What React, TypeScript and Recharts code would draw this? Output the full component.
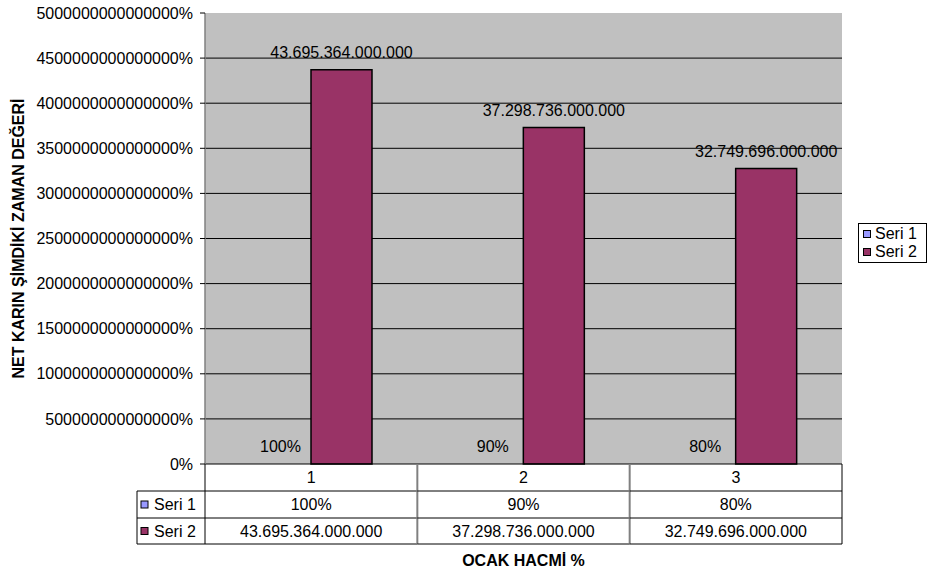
import React from 'react';
import { BarChart, Bar, XAxis, YAxis, CartesianGrid, Legend, LabelList } from 'recharts';

const categories = ['1', '2', '3'];
const seri1Values = [1, 0.9, 0.8];
const seri2Values = [43695364000000, 37298736000000, 32749696000000];
const yTicks = [0, 5e12, 1e13, 1.5e13, 2e13, 2.5e13, 3e13, 3.5e13, 4e13, 4.5e13, 5e13];
const seriesNames = ['Seri 1', 'Seri 2'];
const seriesColors = ['#9999FF', '#993366'];
const xTitle = 'OCAK HACMİ %';
const yTitle = 'NET KARIN ŞİMDİKİ ZAMAN DEĞERİ';

const data = categories.map((c, i) => ({ cat: c, s1: seri1Values[i], s2: seri2Values[i] }));

const FONT = '"Liberation Sans", Arial, Helvetica, sans-serif';
const FS = 16;

const fmtPct = (v: any) => `${Math.round(Number(v) * 100)}%`;
const fmtDots = (v: any) =>
  Math.round(Number(v)).toString().replace(/\B(?=(\d{3})+(?!\d))/g, '.');

const TableTick = (props: any) => {
  const { x, y, payload, index, width, visibleTicksCount } = props;
  const cellW = width / visibleTicksCount;
  const left = x - cellW / 2;
  const right = x + cellW / 2;
  const top = y;
  const r1 = top + 27;
  const r2 = top + 54;
  const r3 = top + 80;
  const i = index;
  const isLast = i === visibleTicksCount - 1;
  const legLeft = left - 68;
  const textProps = {
    fontFamily: FONT,
    fontSize: FS,
    fill: '#000',
    dominantBaseline: 'central' as any,
  };
  return (
    <g>
      <line x1={left} x2={right} y1={r1} y2={r1} stroke="#000" strokeWidth={1} />
      <line x1={left} x2={right} y1={r2} y2={r2} stroke="#000" strokeWidth={1} />
      <line x1={left} x2={right} y1={r3} y2={r3} stroke="#000" strokeWidth={1} />
      <line
        x1={right}
        x2={right}
        y1={top}
        y2={r3}
        stroke={isLast ? '#000' : '#808080'}
        strokeWidth={isLast ? 1 : 2}
      />
      <text x={x} y={(top + r1) / 2} textAnchor="middle" {...textProps}>
        {payload.value}
      </text>
      <text x={x} y={(r1 + r2) / 2} textAnchor="middle" {...textProps}>
        {fmtPct(seri1Values[i])}
      </text>
      <text x={x} y={(r2 + r3) / 2} textAnchor="middle" {...textProps}>
        {fmtDots(seri2Values[i])}
      </text>
      {i === 0 && (
        <g>
          <line x1={left} x2={left} y1={top} y2={r3} stroke="#000" strokeWidth={1} />
          <line x1={legLeft} x2={left} y1={r1} y2={r1} stroke="#000" strokeWidth={1} />
          <line x1={legLeft} x2={left} y1={r2} y2={r2} stroke="#000" strokeWidth={1} />
          <line x1={legLeft} x2={left} y1={r3} y2={r3} stroke="#000" strokeWidth={1} />
          <line x1={legLeft} x2={legLeft} y1={r1} y2={r3} stroke="#000" strokeWidth={1} />
          {seriesNames.map((n, k) => {
            const cy = k === 0 ? (r1 + r2) / 2 : (r2 + r3) / 2;
            return (
              <g key={n}>
                <rect
                  x={legLeft + 4}
                  y={cy - 3.5}
                  width={7}
                  height={7}
                  fill={seriesColors[k]}
                  stroke="#000"
                  strokeWidth={1}
                />
                <text x={legLeft + 17} y={cy} textAnchor="start" {...textProps}>
                  {n}
                </text>
              </g>
            );
          })}
        </g>
      )}
    </g>
  );
};

const LegendBox = (props: any) => {
  const payload = props.payload || [];
  return (
    <div
      style={{
        boxSizing: 'border-box',
        width: 69,
        height: 40,
        border: '1px solid #000',
        background: '#fff',
        fontFamily: FONT,
        fontSize: FS,
        lineHeight: '18px',
        color: '#000',
        paddingTop: 1,
      }}
    >
      {payload.map((p: any) => (
        <div
          key={p.value}
          style={{ display: 'flex', alignItems: 'center', height: 18, paddingLeft: 4 }}
        >
          <span
            style={{
              display: 'inline-block',
              boxSizing: 'border-box',
              width: 8,
              height: 8,
              background: p.color,
              border: '1px solid #000',
              marginRight: 4,
            }}
          />
          <span>{p.value}</span>
        </div>
      ))}
    </div>
  );
};

export default function App() {
  return (
    <div style={{ position: 'absolute', left: 0, top: 0, width: 930, height: 576, background: '#fff' }}>
      <BarChart
        width={930}
        height={576}
        data={data}
        margin={{ top: 13, right: 88, bottom: 0, left: 0 }}
        barSize={61}
        barGap={0}
      >
        <CartesianGrid
          fill="#C0C0C0"
          stroke="#000"
          vertical={false}
          horizontalValues={yTicks.slice(1, -1)}
        />
        <XAxis
          dataKey="cat"
          height={112}
          interval={0}
          tickLine={false}
          tickSize={0}
          tickMargin={0}
          axisLine={{ stroke: '#000' }}
          tick={<TableTick />}
          label={{
            content: (p: any) => {
              const vb = p.viewBox || {};
              return (
                <text
                  x={vb.x + vb.width / 2}
                  y={vb.y + 96}
                  textAnchor="middle"
                  dominantBaseline="central"
                  fontFamily={FONT}
                  fontSize={FS}
                  fontWeight="bold"
                  fill="#000"
                >
                  {xTitle}
                </text>
              );
            },
          }}
        />
        <XAxis
          xAxisId="top"
          orientation="top"
          height={0}
          tick={false}
          tickLine={false}
          axisLine={{ stroke: '#808080', strokeWidth: 1.5 }}
        />
        <YAxis
          type="number"
          domain={[0, 5e13]}
          ticks={yTicks}
          interval={0}
          width={205}
          tickSize={5}
          tickMargin={7}
          tickLine={{ stroke: '#000' }}
          axisLine={{ stroke: '#808080', strokeWidth: 1.5 }}
          tickFormatter={fmtPct}
          tick={{ fill: '#000', fontFamily: FONT, fontSize: FS }}
          label={{
            content: (p: any) => {
              const vb = p.viewBox || {};
              const cx = vb.x + 18;
              const cy = vb.y + vb.height / 2;
              return (
                <text
                  x={cx}
                  y={cy}
                  transform={`rotate(-90 ${cx} ${cy})`}
                  textAnchor="middle"
                  dominantBaseline="central"
                  fontFamily={FONT}
                  fontSize={FS}
                  fontWeight="bold"
                  fill="#000"
                >
                  {yTitle}
                </text>
              );
            },
          }}
        />
        <YAxis
          yAxisId="right"
          orientation="right"
          width={0}
          tick={false}
          tickLine={false}
          axisLine={{ stroke: '#808080', strokeWidth: 1.5 }}
        />
        <Legend
          layout="vertical"
          align="center"
          verticalAlign="middle"
          wrapperStyle={{ left: 858, top: 223, width: 69, height: 40 }}
          content={<LegendBox />}
        />
        <Bar
          dataKey="s1"
          name={seriesNames[0]}
          fill={seriesColors[0]}
          stroke="none"
          isAnimationActive={false}
        >
          <LabelList
            dataKey="s1"
            position="top"
            offset={12}
            formatter={fmtPct}
            fill="#000"
            fontFamily={FONT}
            fontSize={FS}
          />
        </Bar>
        <Bar
          dataKey="s2"
          name={seriesNames[1]}
          fill={seriesColors[1]}
          stroke="#000"
          strokeWidth={1.5}
          isAnimationActive={false}
        >
          <LabelList
            dataKey="s2"
            position="top"
            offset={12}
            formatter={fmtDots}
            fill="#000"
            fontFamily={FONT}
            fontSize={FS}
          />
        </Bar>
      </BarChart>
    </div>
  );
}
